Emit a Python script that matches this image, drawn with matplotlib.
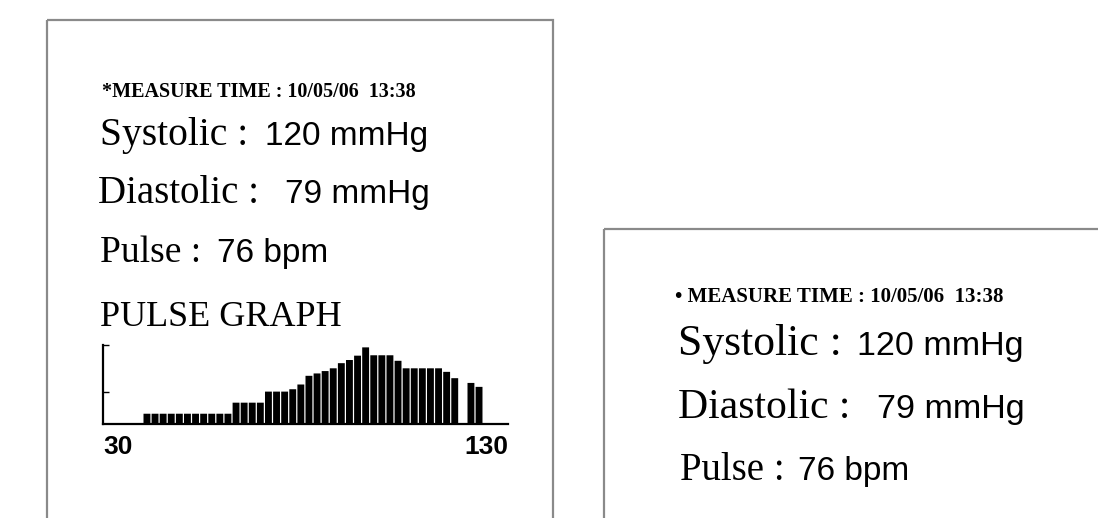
import matplotlib.pyplot as plt
from matplotlib.patches import Rectangle

# Reading shown on the two monitor screens
measure_time = '10/05/06  13:38'
systolic = 120      # mmHg
diastolic = 79      # mmHg
pulse = 76          # bpm

# Pulse graph: bins of 2 bpm starting at 40, bar heights
bin_left = [40, 42, 44, 46, 48, 50, 52, 54, 56, 58, 60, 62, 64, 66, 68, 70, 72, 74, 76, 78, 80,
            82, 84, 86, 88, 90, 92, 94, 96, 98, 100, 102, 104, 106, 108, 110, 112, 114, 116, 118,
            120, 122]
bar_height = [1.3, 1.3, 1.3, 1.3, 1.3, 1.3, 1.3, 1.3, 1.3, 1.3, 1.3, 2.7, 2.7, 2.7, 2.7, 4.1, 4.1,
              4.1, 4.4, 5.0, 6.1, 6.4, 6.7, 7.05, 7.7, 8.1, 8.65, 9.7, 8.7, 8.7, 8.7, 8.0, 7.05,
              7.05, 7.05, 7.05, 7.05, 6.6, 5.8, 0.0, 5.2, 4.7]
x_ticks = [30, 130]
x_tick_labels = ['30', '130']

W, H = 1098, 518

# serif for the labels, a narrow-ish sans for the numbers
serif = ['Liberation Serif', 'DejaVu Serif']
sans = ['Liberation Sans Narrow', 'Liberation Sans']

fig = plt.figure(figsize=(W / 100, H / 100), dpi=100)
fig.patch.set_facecolor('white')

# full-figure axes in pixel units for the screen boxes and the text
bg = fig.add_axes([0, 0, 1, 1])
bg.set_xlim(0, W)
bg.set_ylim(H, 0)
bg.axis('off')

bg.add_patch(Rectangle((47, 20), 506, 520, fill=False, edgecolor='#8a8a8a', lw=1.6))
bg.add_patch(Rectangle((604, 229), 520, 320, fill=False, edgecolor='#8a8a8a', lw=1.6))


def label(x, y, s, size, fam, bold=False):
    bg.text(x, y, s, fontsize=size, family=fam, va='baseline', ha='left',
            fontweight='bold' if bold else 'normal', color='black')


# left screen
label(102, 97, '*MEASURE TIME : ' + measure_time, 14.5, serif, bold=True)
label(100, 145, 'Systolic :', 28.5, serif)
label(265, 145, '%d mmHg' % systolic, 24, sans)
label(98, 203, 'Diastolic :', 28, serif)
label(285, 203, '%d mmHg' % diastolic, 24, sans)
label(100, 262, 'Pulse :', 27, serif)
label(217, 262, '%d bpm' % pulse, 24, sans)
label(100, 326, 'PULSE GRAPH', 26, serif)

# right screen
label(675, 302, '\u2022 MEASURE TIME : ' + measure_time, 15, serif, bold=True)
label(678, 355, 'Systolic :', 31.5, serif)
label(857, 355, '%d mmHg' % systolic, 24.5, sans)
label(678, 418, 'Diastolic :', 30, serif)
label(877, 418, '%d mmHg' % diastolic, 24.5, sans)
label(680, 480, 'Pulse :', 28, serif)
label(798, 480, '%d bpm' % pulse, 24, sans)

# pulse graph
ax = fig.add_axes([103 / W, (H - 424) / H, 405 / W, 79 / H])
ax.bar(bin_left, bar_height, width=1.7, align='edge', color='black', linewidth=0, snap=False)
ax.set_xlim(30, 130)
ax.set_ylim(0, 10)
ax.patch.set_alpha(0)
for side in ['top', 'right']:
    ax.spines[side].set_visible(False)
for side in ['left', 'bottom']:
    ax.spines[side].set_linewidth(1.6)
ax.set_yticks([4, 10])
ax.set_yticklabels([])
ax.tick_params(axis='y', direction='in', length=4, width=1)
ax.set_xticks(x_ticks)
ax.set_xticklabels(x_tick_labels, fontsize=19, family=sans, fontweight='bold')
ax.tick_params(axis='x', length=0, pad=8)
lbls = ax.get_xticklabels()
lbls[0].set_ha('left')
lbls[1].set_ha('right')

fig.savefig('out.png', dpi=100)
